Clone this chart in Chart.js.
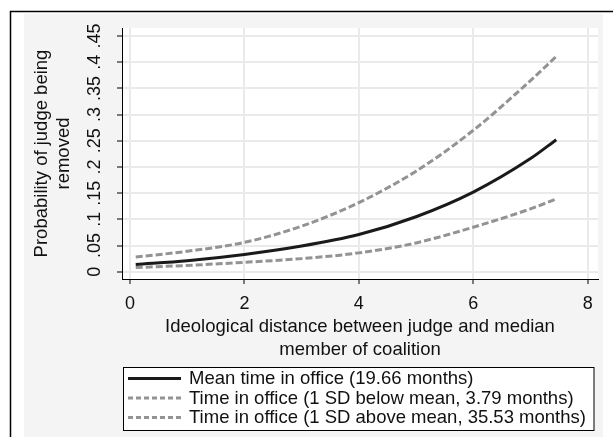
<!DOCTYPE html>
<html><head><meta charset="utf-8">
<script src="https://cdn.jsdelivr.net/npm/chart.js@4/dist/chart.umd.min.js"></script>
<style>html,body{margin:0;padding:0;background:#fff;overflow:hidden}</style>
</head><body>
<canvas id="c" width="613" height="437"></canvas>
<script>
// ---- data ----
const distance   = [0.1, 1, 2, 3, 4, 5, 6, 7, 7.45];
const meanTime   = [0.014, 0.021, 0.033, 0.049, 0.071, 0.105, 0.152, 0.216, 0.252];
const belowMean  = [0.028, 0.039, 0.056, 0.087, 0.132, 0.192, 0.270, 0.365, 0.411];
const aboveMean  = [0.008, 0.012, 0.018, 0.025, 0.036, 0.055, 0.085, 0.120, 0.139];
const seriesLabels = [
  'Mean time in office (19.66 months)',
  'Time in office (1 SD below mean, 3.79 months)',
  'Time in office (1 SD above mean, 35.53 months)'
];
const xTicks = [0, 2, 4, 6, 8];
const yTicks = [0, 0.05, 0.1, 0.15, 0.2, 0.25, 0.3, 0.35, 0.4, 0.45];
const yTickLabels = ['0', '.05', '.1', '.15', '.2', '.25', '.3', '.35', '.4', '.45'];
const xTitle = ['Ideological distance between judge and median', 'member of coalition'];
const yTitle = ['Probability of judge being', 'removed'];

const FONT = 'Liberation Sans, Arial, sans-serif';
const toPts = ys => distance.map((x, i) => ({x: x, y: ys[i]}));

const bgPlugin = {
  id: 'bg',
  beforeDraw(chart) {
    const ctx = chart.ctx, a = chart.chartArea;
    ctx.save();
    ctx.fillStyle = '#ffffff';
    ctx.fillRect(0, 0, chart.width, chart.height);
    ctx.fillStyle = '#f4f4f4';
    ctx.fillRect(24, 14, 603 - 24, chart.height - 14);
    ctx.fillStyle = '#ffffff';
    ctx.fillRect(a.left, a.top, a.right - a.left, a.bottom - a.top);
    ctx.strokeStyle = '#000';
    ctx.lineWidth = 1.5;
    ctx.beginPath();
    ctx.moveTo(10.5, chart.height);
    ctx.lineTo(10.5, 11.5);
    ctx.lineTo(chart.width, 11.5);
    ctx.stroke();
    ctx.restore();
  }
};

const legendPlugin = {
  id: 'boxLegend',
  afterDraw(chart) {
    const ctx = chart.ctx;
    const bx = 123.5, by = 367.5, bw = 470.5, bh = 63;
    ctx.save();
    ctx.fillStyle = '#fff';
    ctx.fillRect(bx, by, bw, bh);
    ctx.strokeStyle = '#000';
    ctx.lineWidth = 1;
    ctx.strokeRect(bx, by, bw, bh);
    ctx.font = '18.5px ' + FONT;
    ctx.textBaseline = 'middle';
    ctx.textAlign = 'left';
    chart.data.datasets.forEach((ds, i) => {
      const y = by + 11 + i * 19.5;
      ctx.strokeStyle = ds.borderColor;
      ctx.lineWidth = ds.borderWidth;
      ctx.setLineDash(ds.borderDash ? [5, 3] : []);
      ctx.beginPath();
      ctx.moveTo(128, y);
      ctx.lineTo(181, y);
      ctx.stroke();
      ctx.setLineDash([]);
      ctx.fillStyle = '#111';
      ctx.fillText(ds.label, 189, y + 0.5);
    });
    ctx.restore();
  }
};

new Chart(document.getElementById('c'), {
  type: 'line',
  data: {
    datasets: [
      {label: seriesLabels[0], data: toPts(meanTime), borderColor: '#1a1a1a', borderWidth: 3,
       pointRadius: 0, cubicInterpolationMode: 'monotone', fill: false},
      {label: seriesLabels[1], data: toPts(belowMean), borderColor: '#939393', borderWidth: 3,
       borderDash: [7, 3], pointRadius: 0, cubicInterpolationMode: 'monotone', fill: false},
      {label: seriesLabels[2], data: toPts(aboveMean), borderColor: '#939393', borderWidth: 3,
       borderDash: [7, 3], pointRadius: 0, cubicInterpolationMode: 'monotone', fill: false}
    ]
  },
  options: {
    responsive: false,
    devicePixelRatio: 1,
    animation: false,
    events: [],
    layout: {padding: {left: 24, top: 28, right: 15, bottom: 72}},
    plugins: {legend: {display: false}, tooltip: {enabled: false}},
    scales: {
      x: {
        type: 'linear', min: -0.14, max: 8.18,
        afterBuildTicks: s => { s.ticks = xTicks.map(v => ({value: v})); },
        afterFit: s => { s.height = 86; },
        grid: {color: '#eaeaea', lineWidth: 2, drawTicks: true, tickLength: 5, tickColor: '#000', tickWidth: 1},
        border: {display: true, color: '#000', width: 1},
        ticks: {color: '#111', font: {family: FONT, size: 18}, padding: 9, maxRotation: 0, autoSkip: false,
                callback: v => String(v)},
        title: {display: true, text: xTitle, color: '#111',
                font: {family: FONT, size: 18.5, lineHeight: 1.27}, padding: {top: 0, bottom: 3}}
      },
      y: {
        type: 'linear', min: -0.0139, max: 0.4653,
        afterBuildTicks: s => { s.ticks = yTicks.map(v => ({value: v})); },
        afterFit: s => { s.width = 98; },
        grid: {color: '#eaeaea', lineWidth: 2, drawTicks: true, tickLength: 5, tickColor: '#000', tickWidth: 1},
        border: {display: true, color: '#000', width: 1},
        ticks: {color: '#111', font: {family: FONT, size: 18}, padding: 9.5, minRotation: 90, maxRotation: 90,
                autoSkip: false, crossAlign: 'center', callback: (v, i) => yTickLabels[i]},
        title: {display: true, text: yTitle, color: '#111',
                font: {family: FONT, size: 18.5, lineHeight: 1.2}, padding: {top: 7, bottom: 0}}
      }
    }
  },
  plugins: [bgPlugin, legendPlugin]
});
</script>
</body></html>
